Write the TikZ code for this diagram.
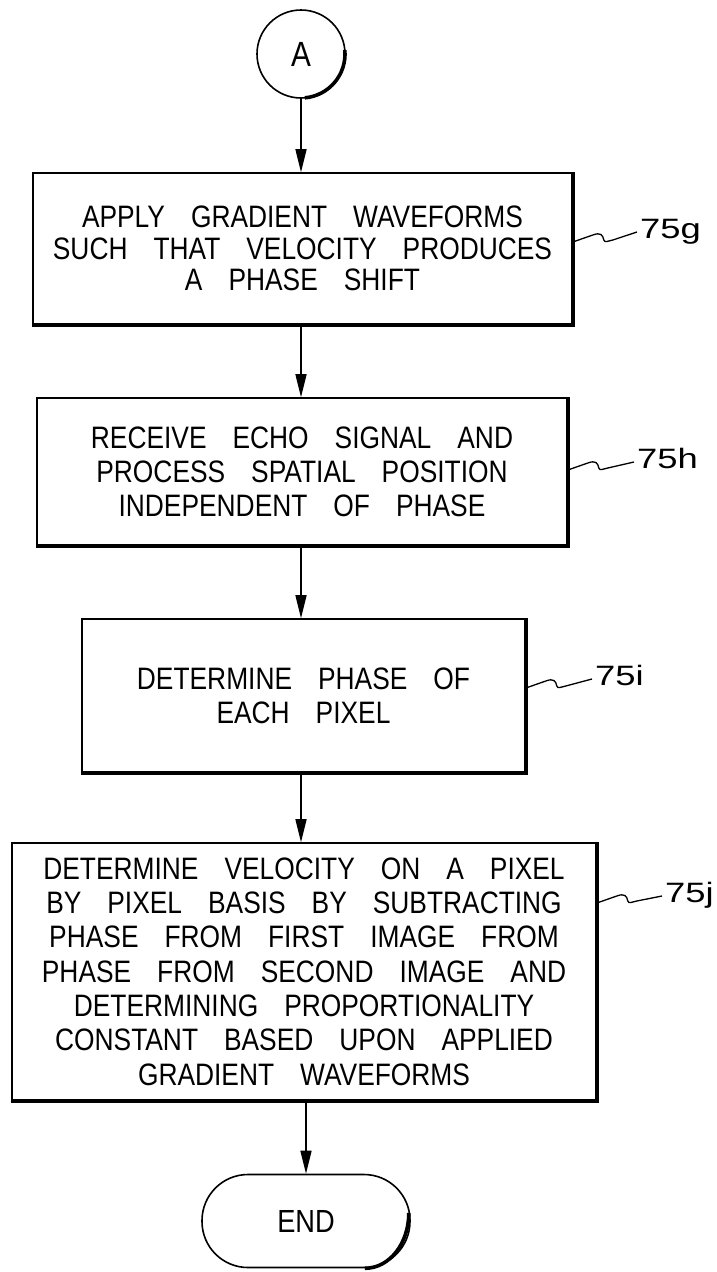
\documentclass[tikz,border=0pt]{standalone}
\usepackage{fontspec}
\newfontfamily\dfont{Liberation Sans}[FakeStretch=0.85]
\newfontfamily\lfont{Liberation Sans}[FakeStretch=1.3]
\usetikzlibrary{arrows.meta,calc}
\begin{document}
\begin{tikzpicture}[x=1pt,y=-1pt,
  boxtext/.style={font={\dfont\fontsize{31}{31.5}\selectfont\spaceskip=26pt\relax}},
  stepbox/.style={draw,line width=1.6pt,align=center,inner sep=0pt,boxtext},
  flow/.style={line width=1.4pt,-{Triangle[length=23pt,width=11pt]}},
  squig/.style={line width=1.3pt},
  reflabel/.style={font={\lfont\fontsize{28}{28}\selectfont},anchor=base west,inner sep=0pt},
  heavy/.style={line width=3.6pt}
]
\useasboundingbox (0,0) rectangle (717,1272);

\node[draw,circle,line width=1.6pt,minimum size=88pt,inner sep=0pt,font={\dfont\fontsize{35}{35}\selectfont}] (A) at (301,54) {A};
\draw[heavy] ($(A)+(-5:44)$) arc[start angle=-5,end angle=85,radius=44];

\node[stepbox,minimum width=539pt,minimum height=151pt] (g) at (302.5,248.5)
  {APPLY GRADIENT WAVEFORMS\\SUCH THAT VELOCITY PRODUCES\\A PHASE SHIFT};
\node[stepbox,minimum width=530pt,minimum height=147pt,font={\dfont\fontsize{31}{34}\selectfont\spaceskip=26pt\relax}] (h) at (302,471.5)
  {RECEIVE ECHO SIGNAL AND\\PROCESS SPATIAL POSITION\\INDEPENDENT OF PHASE};
\node[stepbox,minimum width=443pt,minimum height=153pt,font={\dfont\fontsize{31}{34}\selectfont\spaceskip=26pt\relax}] (i) at (303.5,695.5)
  {DETERMINE PHASE OF\\EACH PIXEL};
\node[stepbox,minimum width=584pt,minimum height=257pt,font={\dfont\fontsize{31}{34.3}\selectfont\spaceskip=26pt\relax}] (j) at (304,971.5)
  {DETERMINE VELOCITY ON A PIXEL\\BY PIXEL BASIS BY SUBTRACTING\\PHASE FROM FIRST IMAGE FROM\\PHASE FROM SECOND IMAGE AND\\DETERMINING PROPORTIONALITY\\CONSTANT BASED UPON APPLIED\\GRADIENT WAVEFORMS};
\node[draw,line width=1.6pt,rounded corners=46pt,minimum width=208pt,minimum height=93pt,inner sep=0pt,font={\dfont\fontsize{32}{32}\selectfont}] (e) at (306,1221) {END};
\draw[heavy] ($(e.east)+(-2,-8)$) .. controls +(0,30) and +(25,0) .. ($(e.south east)+(-46,0)$);

\foreach \b in {g,h,i,j}{
  \draw[heavy] (\b.north east) -- (\b.south east) -- (\b.south west);
}

\draw[flow] (A.south) -- (A.south |- g.north);
\draw[flow] (g.south -| A.south) -- (h.north -| A.south);
\draw[flow] (h.south -| A.south) -- (i.north -| A.south);
\draw[flow] (i.south -| A.south) -- (j.north -| A.south);
\draw[flow] (j.south -| e.north) -- (e.north);

\node[reflabel] (lg) at (640,238) {75g};
\node[reflabel] (lh) at (637,468) {75h};
\node[reflabel] (li) at (595,685) {75i};
\node[reflabel] (lj) at (665,902) {75j};

\coordinate (sg) at (g.east |- 0,242);
\coordinate (sh) at (h.east |- 0,470);
\coordinate (si) at (i.east |- 0,688);
\coordinate (sj) at (j.east |- 0,903);

\foreach \s/\l in {sg/lg,sh/lh,si/li,sj/lj}{
  \draw[squig] (\s) -- ++(20,-7) .. controls +(8,-3) and +(-1,-5) .. ++(11,5)
    .. controls +(1,3) and +(-5,1) .. ++(9,0) -- ($(\l.base west)+(-3,-6)$);
}
\end{tikzpicture}
\end{document}
